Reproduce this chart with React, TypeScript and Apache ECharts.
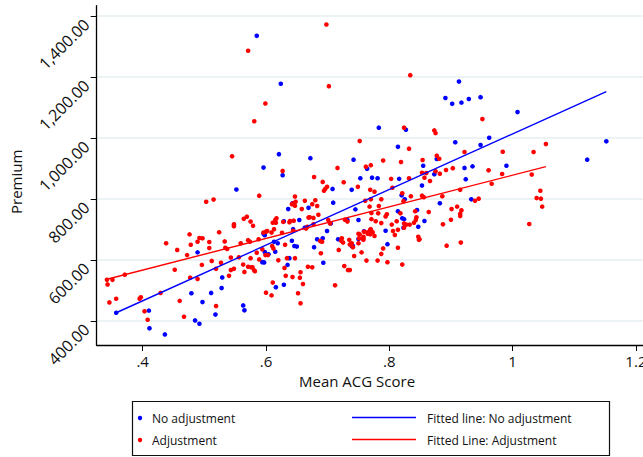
import React, { useEffect, useRef } from "react";
import * as echarts from "echarts";

const xTicks = [0.4, 0.6, 0.8, 1.0, 1.2];
const yTicks = [400, 600, 800, 1000, 1200, 1400];

const noAdjustment: number[][] = [
  [0.585,1335],[0.624,1178],[0.621,947],[0.672,934],[0.742,929],[0.596,903],[0.627,878],[0.764,899],[0.753,868],[0.772,870],
  [0.913,1185],[0.891,1131],[0.902,1112],[0.917,1116],[0.929,1128],[0.948,1134],[1.008,1085],[0.783,1034],[0.827,1027],[0.962,1001],
  [0.907,986],[0.948,977],[0.814,971],[1.121,929],[1.152,989],[0.855,909],[0.877,931],[0.873,881],[0.922,902],[0.935,907],
  [0.990,909],[0.781,868],[0.816,866],[0.924,865],[0.853,844],[0.820,812],[0.825,799],[0.933,799],[0.882,786],[0.814,760],
  [0.845,764],[0.821,737],[0.824,734],[0.847,709],[0.857,728],[0.759,694],[0.794,696],[0.823,706],[0.797,652],[0.741,646],
  [0.750,669],[0.745,766],[0.750,731],[0.739,830],[0.708,833],[0.552,831],[0.643,786],[0.709,788],[0.636,767],[0.669,771],
  [0.654,731],[0.629,727],[0.596,686],[0.598,681],[0.644,701],[0.663,706],[0.642,663],[0.646,646],[0.650,644],[0.619,655],
  [0.615,627],[0.613,660],[0.683,668],[0.692,671],[0.699,695],[0.678,642],[0.705,720],[0.717,668],[0.732,731],[0.739,646],
  [0.693,591],[0.638,606],[0.635,584],[0.629,519],[0.616,511],[0.594,593],[0.597,592],[0.604,619],[0.598,626],[0.529,543],
  [0.489,625],[0.479,491],[0.511,492],[0.528,508],[0.497,462],[0.410,434],[0.411,376],[0.436,356],[0.485,402],[0.492,391],
  [0.518,421],[0.563,451],[0.565,435],[0.357,427]
];

const adjustment: number[][] = [
  [0.698,1372],[0.571,1286],[0.702,1170],[0.599,1113],[0.581,1055],[0.752,990],[0.545,940],[0.627,892],[0.716,902],[0.678,872],
  [0.762,906],[0.770,911],[0.834,1206],[0.951,1062],[0.824,1034],[0.873,1025],[0.875,1016],[0.832,965],[1.054,980],[0.984,955],
  [1.034,954],[0.922,954],[0.790,926],[0.819,921],[0.854,928],[0.877,942],[0.881,932],[0.853,886],[0.860,885],[0.857,870],
  [0.875,891],[0.882,883],[0.892,895],[0.903,901],[0.961,894],[0.983,882],[1.031,880],[0.803,866],[0.832,868],[0.805,837],
  [0.866,859],[0.966,850],[0.769,830],[0.776,824],[1.045,827],[1.039,803],[1.046,801],[1.048,775],[1.027,718],[0.761,794],
  [0.770,799],[0.787,799],[0.821,819],[0.823,793],[0.835,809],[0.853,811],[0.856,806],[0.886,809],[0.915,830],[0.939,794],
  [0.945,801],[0.783,777],[0.771,754],[0.782,753],[0.796,750],[0.842,760],[0.864,757],[0.901,767],[0.910,775],[0.917,763],
  [0.915,752],[0.818,753],[0.771,734],[0.778,727],[0.787,721],[0.794,743],[0.804,716],[0.812,727],[0.824,720],[0.828,716],
  [0.833,716],[0.840,722],[0.843,731],[0.887,717],[0.900,732],[0.915,744],[0.752,684],[0.757,670],[0.776,679],[0.769,699],
  [0.806,695],[0.809,682],[0.814,699],[0.824,706],[0.847,676],[0.849,668],[0.790,638],[0.814,640],[0.893,647],[0.916,657],
  [0.755,625],[0.787,620],[0.763,598],[0.781,598],[0.797,593],[0.821,585],[0.848,666],[0.743,613],[0.736,567],[0.741,642],
  [0.736,651],[0.750,655],[0.751,671],[0.750,686],[0.758,671],[0.759,693],[0.765,686],[0.749,840],[0.844,740],[0.692,856],
  [0.696,833],[0.699,840],[0.694,827],[0.726,855],[0.589,811],[0.503,791],[0.515,798],[0.647,808],[0.648,791],[0.645,786],
  [0.642,783],[0.647,778],[0.663,794],[0.680,796],[0.675,783],[0.658,767],[0.683,777],[0.768,775],[0.685,748],[0.671,740],
  [0.677,738],[0.669,739],[0.639,728],[0.638,724],[0.645,729],[0.628,725],[0.615,731],[0.611,722],[0.616,722],[0.617,737],
  [0.579,712],[0.569,742],[0.564,735],[0.575,726],[0.548,717],[0.548,711],[0.524,691],[0.476,684],[0.478,650],[0.492,672],
  [0.497,671],[0.489,660],[0.508,659],[0.508,639],[0.438,655],[0.456,633],[0.472,616],[0.533,661],[0.534,640],[0.537,636],
  [0.559,655],[0.571,665],[0.574,660],[0.588,668],[0.600,693],[0.596,690],[0.602,695],[0.609,690],[0.613,701],[0.626,689],
  [0.644,696],[0.665,703],[0.667,709],[0.677,717],[0.610,646],[0.612,638],[0.631,650],[0.688,662],[0.691,660],[0.689,622],
  [0.701,731],[0.704,720],[0.723,671],[0.722,663],[0.725,657],[0.732,726],[0.728,732],[0.718,633],[0.735,666],[0.739,655],
  [0.758,676],[0.758,666],[0.765,691],[0.769,684],[0.773,691],[0.770,701],[0.727,580],[0.733,567],[0.712,517],[0.675,576],
  [0.668,578],[0.656,560],[0.655,542],[0.652,491],[0.656,458],[0.660,521],[0.647,606],[0.643,544],[0.632,548],[0.630,574],
  [0.634,606],[0.620,599],[0.611,526],[0.600,493],[0.609,484],[0.603,616],[0.599,616],[0.589,602],[0.585,624],[0.575,606],
  [0.578,576],[0.581,566],[0.576,576],[0.571,578],[0.565,561],[0.563,585],[0.543,567],[0.548,571],[0.540,548],[0.556,609],
  [0.543,608],[0.527,591],[0.512,597],[0.519,571],[0.496,584],[0.489,538],[0.477,542],[0.452,568],[0.371,552],[0.342,535],
  [0.351,535],[0.343,520],[0.346,461],[0.357,473],[0.395,473],[0.397,478],[0.429,492],[0.460,466],[0.519,449],[0.403,432],
  [0.408,404],[0.467,414],[0.594,635],[0.582,563]
];

const fitNoAdjustment: number[][] = [[0.357, 427], [1.152, 1152]];
const fitAdjustment: number[][] = [[0.342, 537], [1.054, 906]];

const legendLabels = ["No adjustment", "Adjustment", "Fitted line: No adjustment", "Fitted Line: Adjustment"];

const BLUE = "#0000ff";
const RED = "#ff0000";
const FONT = "Open Sans";

export default function App() {
  const ref = useRef<HTMLDivElement>(null);
  useEffect(() => {
    document.body.style.margin = "0";
    const chart = echarts.init(ref.current!, null, { renderer: "svg" });
    const fmtY = (v: number) =>
      v.toLocaleString("en-US", { minimumFractionDigits: 2, maximumFractionDigits: 2 });
    const fmtX = (v: number) => {
      const s = String(Math.round(v * 10) / 10);
      return s.startsWith("0.") ? s.slice(1) : s;
    };
    chart.setOption({
      animation: false,
      backgroundColor: "#ffffff",
      textStyle: { fontFamily: FONT },
      grid: { left: 96.7, right: 0, top: 5.7, bottom: 112, outerBoundsMode: "none" },
      xAxis: {
        type: "value",
        min: 0.3254,
        max: 1.2115,
        axisLine: { show: true, lineStyle: { color: "#000", width: 1.3 } },
        axisTick: { show: true, length: 6, customValues: xTicks, lineStyle: { color: "#000" } },
        axisLabel: { customValues: xTicks, formatter: fmtX, color: "#111", fontSize: 15, margin: 8, fontFamily: FONT },
        splitLine: { show: false },
      },
      yAxis: {
        type: "value",
        min: 321.3,
        max: 1433.8,
        axisLine: { show: true, lineStyle: { color: "#000", width: 1.3 } },
        axisTick: { show: true, length: 6, customValues: yTicks, lineStyle: { color: "#000" } },
        axisLabel: {
          customValues: yTicks, formatter: fmtY, rotate: 45, color: "#111", fontSize: 16, margin: 16,
          verticalAlign: "top", fontFamily: FONT,
        },
        splitLine: { show: true, lineStyle: { color: "#e6eff1", width: 1.5 } },
      },
      series: [
        { type: "scatter", name: legendLabels[0], data: noAdjustment, symbolSize: 4.6, itemStyle: { color: BLUE, opacity: 1 } },
        { type: "scatter", name: legendLabels[1], data: adjustment, symbolSize: 4.6, itemStyle: { color: RED, opacity: 1 } },
        { type: "line", name: legendLabels[2], data: fitNoAdjustment, showSymbol: false, lineStyle: { color: BLUE, width: 1.4 }, z: 3 },
        { type: "line", name: legendLabels[3], data: fitAdjustment, showSymbol: false, lineStyle: { color: RED, width: 1.4 }, z: 3 },
      ],
      graphic: [
        { type: "text", left: 299, top: 373, style: { text: "Mean ACG Score", font: `15px "${FONT}"`, fill: "#111" } },
        { type: "text", x: 8, y: 214, rotation: Math.PI / 2, style: { text: "Premium", font: `15px "${FONT}"`, fill: "#111" } },
        { type: "rect", shape: { x: 132.5, y: 401.5, width: 477, height: 54 }, style: { fill: "#fff", stroke: "#111", lineWidth: 1.2 } },
        { type: "circle", shape: { cx: 140, cy: 418, r: 2.2 }, style: { fill: BLUE } },
        { type: "circle", shape: { cx: 140, cy: 440, r: 2.2 }, style: { fill: RED } },
        { type: "text", x: 152, y: 418, style: { text: legendLabels[0], font: `12px "${FONT}"`, fill: "#111", verticalAlign: "middle" } },
        { type: "text", x: 152, y: 440, style: { text: legendLabels[1], font: `12px "${FONT}"`, fill: "#111", verticalAlign: "middle" } },
        { type: "line", shape: { x1: 352, y1: 417.5, x2: 416, y2: 417.5 }, style: { stroke: BLUE, lineWidth: 1.5 } },
        { type: "line", shape: { x1: 352, y1: 439.5, x2: 416, y2: 439.5 }, style: { stroke: RED, lineWidth: 1.5 } },
        { type: "text", x: 427, y: 418, style: { text: legendLabels[2], font: `12px "${FONT}"`, fill: "#111", verticalAlign: "middle" } },
        { type: "text", x: 427, y: 440, style: { text: legendLabels[3], font: `12px "${FONT}"`, fill: "#111", verticalAlign: "middle" } },
      ],
    });
    return () => chart.dispose();
  }, []);
  return <div ref={ref} style={{ width: 643, height: 457 }} />;
}
